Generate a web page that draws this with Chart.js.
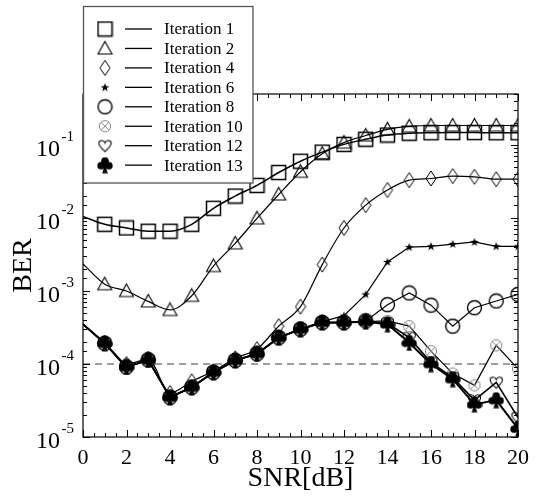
<!DOCTYPE html>
<html>
<head>
<meta charset="utf-8">
<script src="https://cdn.jsdelivr.net/npm/chart.js@4"></script>
<style>
  html, body { margin: 0; padding: 0; background: #fff; }
  #chart { display: block; }
</style>
</head>
<body>
<canvas id="chart" width="537" height="499"></canvas>
<script>
// SNR in dB
const snr = [0, 1, 2, 3, 4, 5, 6, 7, 8, 9, 10, 11, 12, 13, 14, 15, 16, 17, 18, 19, 20];

// BER per iteration (value at 0 dB is only the start of the line, no marker)
const iter1 = [1.05e-2, 8.2e-3, 7.3e-3, 6.6e-3, 6.6e-3, 8.2e-3, 1.36e-2, 2.0e-2, 2.8e-2, 4.2e-2, 6.0e-2,
  8.0e-2, 1.02e-1, 1.2e-1, 1.37e-1, 1.45e-1, 1.47e-1, 1.48e-1, 1.48e-1, 1.47e-1, 1.47e-1];
const iter2 = [2.35e-3, 1.24e-3, 1.0e-3, 7.2e-4, 5.5e-4, 8.6e-4, 2.2e-3, 4.5e-3, 9.9e-3, 2.1e-2, 4.3e-2,
  7.6e-2, 1.08e-1, 1.35e-1, 1.64e-1, 1.8e-1, 1.85e-1, 1.85e-1, 1.85e-1, 1.85e-1, 1.85e-1];
const iter4 = [3.5e-4, 1.95e-4, 1.0e-4, 1.16e-4, 4.0e-5, 5.8e-5, 8.0e-5, 1.2e-4, 1.6e-4, 3.3e-4, 6.1e-4,
  2.3e-3, 7.3e-3, 1.5e-2, 2.42e-2, 3.3e-2, 3.48e-2, 3.75e-2, 3.67e-2, 3.4e-2, 3.4e-2];
const iter6 = [3.5e-4, 1.92e-4, 9.1e-5, 1.14e-4, 3.5e-5, 4.8e-5, 7.7e-5, 1.12e-4, 1.38e-4, 2.3e-4, 3.0e-4,
  3.8e-4, 4.6e-4, 9.0e-4, 2.5e-3, 4.0e-3, 4.1e-3, 4.4e-3, 4.7e-3, 4.1e-3, 4.1e-3];
const iter8 = [3.5e-4, 1.92e-4, 9.1e-5, 1.14e-4, 3.5e-5, 4.8e-5, 7.7e-5, 1.12e-4, 1.38e-4, 2.3e-4, 3.0e-4,
  3.7e-4, 3.7e-4, 3.9e-4, 6.5e-4, 9.4e-4, 6.4e-4, 3.3e-4, 5.9e-4, 7.3e-4, 9.0e-4];
const iter10 = [3.5e-4, 1.92e-4, 9.1e-5, 1.14e-4, 3.5e-5, 4.8e-5, 7.7e-5, 1.12e-4, 1.38e-4, 2.3e-4, 3.0e-4,
  3.7e-4, 3.7e-4, 3.8e-4, 3.9e-4, 3.3e-4, 1.5e-4, 7.4e-5, 5.1e-5, 1.8e-4, 8.6e-5];
const iter12 = [3.5e-4, 1.92e-4, 9.1e-5, 1.14e-4, 3.5e-5, 4.8e-5, 7.7e-5, 1.12e-4, 1.38e-4, 2.3e-4, 3.0e-4,
  3.7e-4, 3.7e-4, 3.8e-4, 3.6e-4, 2.3e-4, 1.05e-4, 6.5e-5, 3.2e-5, 5.6e-5, 1.85e-5];
const iter13 = [3.5e-4, 1.92e-4, 9.1e-5, 1.14e-4, 3.5e-5, 4.8e-5, 7.7e-5, 1.12e-4, 1.38e-4, 2.3e-4, 3.0e-4,
  3.7e-4, 3.7e-4, 3.8e-4, 3.5e-4, 1.95e-4, 1.0e-4, 6.2e-5, 2.8e-5, 3.2e-5, 1.3e-5];

// dashed reference level
const targetSnr = [0, 20];
const targetBer = [1e-4, 1e-4];

const labels = ['Iteration 1', 'Iteration 2', 'Iteration 4', 'Iteration 6',
  'Iteration 8', 'Iteration 10', 'Iteration 12', 'Iteration 13'];

const SERIF = '"Liberation Serif", "Times New Roman", serif';

// --- marker images ---
function makeMarker(w, h, draw) {
  const c = document.createElement('canvas');
  c.width = w;
  c.height = h;
  const g = c.getContext('2d');
  draw(g);
  return c;
}

const mSquare = makeMarker(17, 17, g => {
  g.strokeStyle = '#000'; g.lineWidth = 1.5;
  g.strokeRect(1.5, 1.5, 14, 14);
});
const mTriangle = makeMarker(17, 17, g => {
  g.strokeStyle = '#000'; g.lineWidth = 1.1;
  g.beginPath(); g.moveTo(8.5, 1.5); g.lineTo(15.5, 14); g.lineTo(1.5, 14); g.closePath(); g.stroke();
});
const mDiamond = makeMarker(12, 17, g => {
  g.strokeStyle = '#000'; g.lineWidth = 1;
  g.beginPath(); g.moveTo(6, 1); g.lineTo(11, 8.5); g.lineTo(6, 16); g.lineTo(1, 8.5); g.closePath(); g.stroke();
});
const mStar = makeMarker(10, 10, g => {
  g.fillStyle = '#000';
  g.beginPath();
  for (let i = 0; i < 10; i++) {
    const r = i % 2 === 0 ? 4.6 : 1.8;
    const a = -Math.PI / 2 + i * Math.PI / 5;
    const px = 5 + r * Math.cos(a), py = 5.3 + r * Math.sin(a);
    if (i === 0) g.moveTo(px, py); else g.lineTo(px, py);
  }
  g.closePath(); g.fill();
});
const mCircle = makeMarker(17, 17, g => {
  g.strokeStyle = '#000'; g.lineWidth = 1.4;
  g.beginPath(); g.arc(8.5, 8.5, 7, 0, Math.PI * 2); g.stroke();
});
const mOtimes = makeMarker(14, 14, g => {
  g.strokeStyle = '#888'; g.lineWidth = 1;
  g.beginPath(); g.arc(7, 7, 5.6, 0, Math.PI * 2); g.stroke();
  g.beginPath();
  g.moveTo(3.1, 3.1); g.lineTo(10.9, 10.9);
  g.moveTo(10.9, 3.1); g.lineTo(3.1, 10.9);
  g.stroke();
});
const mHeart = makeMarker(15, 14, g => {
  g.strokeStyle = '#000'; g.lineWidth = 1.1;
  g.beginPath();
  g.moveTo(7.5, 12.8);
  g.bezierCurveTo(4.5, 9.8, 1.2, 7.2, 1.4, 4.4);
  g.bezierCurveTo(1.6, 1.2, 6.4, 0.8, 7.5, 4.2);
  g.bezierCurveTo(8.6, 0.8, 13.4, 1.2, 13.6, 4.4);
  g.bezierCurveTo(13.8, 7.2, 10.5, 9.8, 7.5, 12.8);
  g.closePath(); g.stroke();
});
const mClub = makeMarker(16, 17, g => {
  g.fillStyle = '#000';
  g.beginPath(); g.arc(8, 4.2, 3.8, 0, Math.PI * 2); g.fill();
  g.beginPath(); g.arc(4.1, 9, 3.8, 0, Math.PI * 2); g.fill();
  g.beginPath(); g.arc(11.9, 9, 3.8, 0, Math.PI * 2); g.fill();
  g.beginPath(); g.arc(8, 8, 3, 0, Math.PI * 2); g.fill();
  g.beginPath(); g.moveTo(8, 8); g.lineTo(10.8, 16.5); g.lineTo(5.2, 16.5); g.closePath(); g.fill();
});

const series = [iter1, iter2, iter4, iter6, iter8, iter10, iter12, iter13];
const markers = [mSquare, mTriangle, mDiamond, mStar, mCircle, mOtimes, mHeart, mClub];
const smooth = [true, true, true, false, false, false, false, false];
const widths = [1.5, 1.2, 1.2, 1.2, 1.2, 1.2, 1.6, 2];

const datasets = series.map((vals, k) => ({
  label: labels[k],
  data: snr.map((s, i) => ({ x: s, y: vals[i] })),
  borderColor: '#000',
  borderWidth: widths[k],
  cubicInterpolationMode: smooth[k] ? 'monotone' : 'default',
  tension: 0,
  pointStyle: markers[k],
  pointRadius: ctx => (ctx.dataIndex === 0 ? 0 : 6),
  fill: false,
  order: series.length - k
}));

datasets.push({
  label: 'target',
  data: targetSnr.map((s, i) => ({ x: s, y: targetBer[i] })),
  borderColor: '#808080',
  borderWidth: 1.6,
  borderDash: [7, 5],
  pointRadius: 0,
  fill: false,
  order: 100
});

// frame, inward ticks, y labels with exponents, and the boxed legend
const decorPlugin = {
  id: 'decor',
  afterDatasetsDraw(chart) {
    const { ctx, chartArea: a, scales: { x, y } } = chart;
    ctx.save();
    ctx.strokeStyle = '#000';
    ctx.lineWidth = 1.2;
    ctx.strokeRect(a.left, a.top, a.right - a.left, a.bottom - a.top);

    ctx.lineWidth = 1;
    ctx.beginPath();
    for (let v = x.min; v <= x.max + 1e-9; v += 0.5) {
      const px = Math.round(x.getPixelForValue(v)) + 0.5;
      const len = Math.abs(v % 2) < 1e-9 ? 7 : 4;
      ctx.moveTo(px, a.bottom); ctx.lineTo(px, a.bottom - len);
      ctx.moveTo(px, a.top); ctx.lineTo(px, a.top + len);
    }
    y.ticks.forEach(t => {
      const py = Math.round(y.getPixelForValue(t.value)) + 0.5;
      const e = Math.log10(t.value);
      const len = Math.abs(e - Math.round(e)) < 1e-9 ? 7 : 4;
      ctx.moveTo(a.left, py); ctx.lineTo(a.left + len, py);
      ctx.moveTo(a.right, py); ctx.lineTo(a.right - len, py);
    });
    ctx.stroke();

    ctx.fillStyle = '#000';
    y.ticks.forEach(t => {
      const e = Math.log10(t.value);
      if (Math.abs(e - Math.round(e)) > 1e-9) return;
      const py = y.getPixelForValue(t.value);
      ctx.font = '24px ' + SERIF;
      ctx.textAlign = 'right';
      ctx.textBaseline = 'alphabetic';
      ctx.fillText('10', 60, py + 11);
      ctx.font = '15px ' + SERIF;
      ctx.textAlign = 'left';
      ctx.fillText('-' + (-Math.round(e)), 61.5, py - 4);
    });
    ctx.restore();
  },
  afterDraw(chart) {
    const { ctx } = chart;
    const box = { left: 83.5, top: 6.5, right: 253, bottom: 183 };
    ctx.save();
    ctx.fillStyle = '#fff';
    ctx.fillRect(box.left, box.top, box.right - box.left, box.bottom - box.top);
    ctx.strokeStyle = '#555';
    ctx.lineWidth = 1.3;
    ctx.strokeRect(box.left, box.top, box.right - box.left, box.bottom - box.top);
    ctx.font = '17px ' + SERIF;
    ctx.textAlign = 'left';
    ctx.textBaseline = 'middle';
    ctx.fillStyle = '#000';
    for (let i = 0; i < labels.length; i++) {
      const ry = 29 + i * 19.45;
      const m = markers[i];
      ctx.drawImage(m, 105 - m.width / 2, ry - m.height / 2);
      ctx.beginPath();
      ctx.strokeStyle = '#000';
      ctx.lineWidth = 1.3;
      ctx.moveTo(125, ry); ctx.lineTo(152, ry);
      ctx.stroke();
      ctx.fillText(labels[i], 164, ry + 1);
    }
    ctx.restore();
  }
};

new Chart(document.getElementById('chart'), {
  type: 'line',
  data: { datasets },
  options: {
    responsive: false,
    animation: false,
    events: [],
    layout: { padding: { top: 94, right: 14, left: 0, bottom: 0 } },
    plugins: {
      legend: { display: false },
      tooltip: { enabled: false }
    },
    scales: {
      x: {
        type: 'linear',
        min: 0,
        max: 20,
        ticks: {
          stepSize: 2,
          color: '#000',
          font: { family: SERIF, size: 22 },
          padding: 8,
          maxRotation: 0
        },
        grid: { display: false, drawTicks: false },
        border: { display: false },
        title: {
          display: true,
          text: 'SNR[dB]',
          color: '#000',
          font: { family: SERIF, size: 28 },
          padding: { top: 0, bottom: 4 }
        },
        afterFit: scale => { scale.height = 62; }
      },
      y: {
        type: 'logarithmic',
        min: 1e-5,
        max: 0.5,
        ticks: { display: false },
        grid: { display: false, drawTicks: false },
        border: { display: false },
        title: {
          display: true,
          text: 'BER',
          color: '#000',
          font: { family: SERIF, size: 28 },
          padding: { top: 7, bottom: 0 }
        },
        afterFit: scale => { scale.width = 83; }
      }
    }
  },
  plugins: [decorPlugin]
});
</script>
</body>
</html>
